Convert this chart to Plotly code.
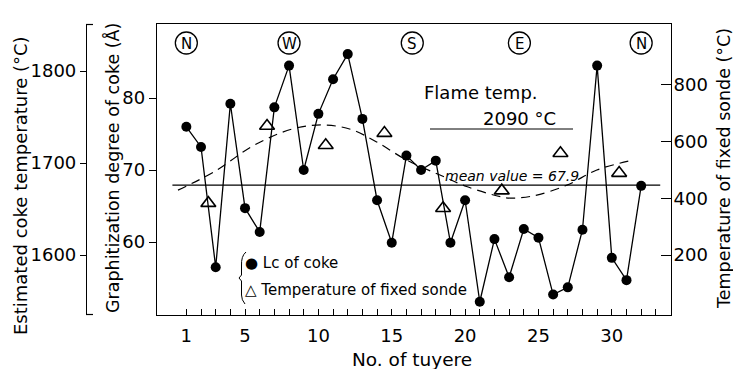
import plotly.graph_objects as go

# ---------------- data ----------------
tuyere = list(range(1, 33))
lc_coke = [76.0, 73.2, 56.5, 79.2, 64.7, 61.4, 78.7, 84.5, 70.0, 77.8,
           82.6, 86.1, 77.1, 65.8, 59.9, 72.0, 70.0, 71.3, 59.9, 65.8,
           51.7, 60.4, 55.1, 61.8, 60.6, 52.7, 53.7, 61.7, 84.5, 57.8,
           54.7, 67.8]

sonde_tuyere = [2.5, 6.5, 10.5, 14.5, 18.5, 22.5, 26.5, 30.5]
sonde_temp = [383, 655, 587, 630, 365, 427, 559, 489]

# dashed trend curve (graphitization units)
curve_x = [0.43, 2.93, 5.67, 8.4, 10.44, 12.27, 13.97, 16.0, 18.29, 20.1,
           22.4, 23.07, 24.64, 26.94, 28.98, 31.49]
curve_y = [67.2, 69.8, 73.5, 75.8, 76.25, 75.6, 73.9, 71.4, 69.3, 67.7,
           66.3, 66.1, 66.4, 67.9, 70.0, 71.4]

mean_value = 67.9
mean_x = [0.05, 33.3]

directions = ["N", "W", "S", "E", "N"]
direction_tuyere = [1, 8, 16.4, 23.7, 32]

x_tickvals = [1, 5, 10, 15, 20, 25, 30]
x_minor = list(range(1, 34))
y1_ticks = [60, 70, 80]
y2_ticks = [200, 400, 600, 800]
y3_ticks = [1600, 1700, 1800]

# ---------------- layout helpers ----------------
W, H = 733, 369
FONT = "DejaVu Sans"


def px(x):
    return x / W


def py(y):
    return 1 - y / H


fig = go.Figure()

fig.add_trace(go.Scatter(
    x=tuyere, y=lc_coke, mode="lines+markers",
    line=dict(color="black", width=1.3),
    marker=dict(symbol="circle", size=10, color="black"),
    showlegend=False))

fig.add_trace(go.Scatter(
    x=curve_x, y=curve_y, mode="lines",
    line=dict(color="black", width=1.2, dash="9px,6px", shape="spline"),
    showlegend=False))

fig.add_trace(go.Scatter(
    x=mean_x, y=[mean_value, mean_value], mode="lines",
    line=dict(color="black", width=1.3), showlegend=False))

fig.add_trace(go.Scatter(
    x=sonde_tuyere, y=sonde_temp, mode="markers", yaxis="y2",
    marker=dict(symbol="triangle-up-open", size=13, color="black",
                line=dict(width=1.6)),
    showlegend=False))

# invisible trace to activate third axis
fig.add_trace(go.Scatter(x=[None], y=[None], yaxis="y3", showlegend=False))

tick_font = dict(family=FONT, size=18, color="black")

fig.update_layout(
    width=W, height=H,
    margin=dict(l=0, r=0, t=0, b=0),
    paper_bgcolor="white", plot_bgcolor="white",
    font=dict(family=FONT, color="black"),
    xaxis=dict(
        domain=[157 / W, 670.5 / W], range=[-1.0, 34.0],
        showgrid=False, zeroline=False, showline=True, linecolor="black",
        linewidth=1.3, mirror=True,
        tickvals=x_tickvals, ticktext=[str(v) for v in x_tickvals],
        ticks="inside", ticklen=6, tickcolor="black", tickwidth=1,
        ticklabelstandoff=4,
        minor=dict(tickvals=x_minor, ticks="inside", ticklen=6,
                   tickcolor="black", tickwidth=1),
        tickfont=tick_font),
    yaxis=dict(
        domain=[py(315), py(24)], range=[49.86, 90.28],
        showgrid=False, zeroline=False, showline=True, linecolor="black",
        linewidth=1.3, mirror=True,
        tickvals=y1_ticks, ticks="outside", ticklen=7, tickcolor="black",
        tickfont=tick_font),
    yaxis2=dict(
        overlaying="y", side="right", anchor="x", range=[-11.6, 1015],
        showgrid=False, zeroline=False, showline=False,
        tickvals=y2_ticks, ticks="inside", ticklen=10, tickcolor="black",
        ticklabelstandoff=2,
        tickfont=tick_font),
    yaxis3=dict(
        overlaying="y", side="left", anchor="free", position=86 / W,
        range=[1534.8, 1851.1],
        showgrid=False, zeroline=False, showline=True, linecolor="black",
        linewidth=1.2,
        tickvals=y3_ticks, ticks="outside", ticklen=6, tickcolor="black",
        tickfont=tick_font),
)

shapes = []
# bracket ends on the coke temperature axis
for yy in (24.5, 314.5):
    shapes.append(dict(type="line", xref="paper", yref="paper",
                       x0=px(86), x1=px(93), y0=py(yy), y1=py(yy),
                       line=dict(color="black", width=1.2)))
# underline for flame temperature
shapes.append(dict(type="line", xref="paper", yref="paper",
                   x0=px(430), x1=px(573), y0=py(129), y1=py(129),
                   line=dict(color="black", width=1)))
# legend brace
brace = (f"M {px(246)},{py(252)} Q {px(241)},{py(256)} {px(241.5)},{py(266)} "
         f"L {px(241.5)},{py(275)} L {px(239)},{py(278)} L {px(241.5)},{py(281)} "
         f"L {px(241.5)},{py(295)} Q {px(241.5)},{py(300)} {px(245)},{py(304)}")
shapes.append(dict(type="path", xref="paper", yref="paper", path=brace,
                   line=dict(color="black", width=1)))
# circles around compass letters
for t in direction_tuyere:
    shapes.append(dict(type="circle", xref="x", yref="paper",
                       xsizemode="pixel", ysizemode="pixel",
                       xanchor=t, yanchor=py(43),
                       x0=-11, x1=11, y0=-11, y1=11,
                       line=dict(color="black", width=1.3)))
fig.update_layout(shapes=shapes)

ann = []
for t, d in zip(direction_tuyere, directions):
    ann.append(dict(x=t, y=py(43.5), xref="x", yref="paper", text=d,
                    showarrow=False, font=dict(family=FONT, size=15),
                    xanchor="center", yanchor="middle"))


def txt(text, x, y, size, angle=0, xanchor="center"):
    ann.append(dict(x=px(x), y=py(y), xref="paper", yref="paper", text=text,
                    showarrow=False, textangle=angle,
                    font=dict(family=FONT, size=size, color="black"),
                    xanchor=xanchor, yanchor="middle"))


txt("Estimated coke temperature (°C)", 20, 186, 18, -90)
txt("Graphitization degree of coke (Å)", 112, 168, 17.5, -90)
txt("Temperature of fixed sonde (°C)", 724, 169, 17.5, -90)
txt("No. of tuyere", 412, 359, 18.5)
txt("Flame temp.", 422, 93, 18, xanchor="left")
txt("2090 °C", 519, 119, 18)
txt("<i>mean value = 67.9</i>", 512, 176, 14)
txt("● Lc of coke", 243, 263, 15, xanchor="left")
txt("△ Temperature of fixed sonde", 243, 290, 15, xanchor="left")
fig.update_layout(annotations=ann)

fig.write_html("out.html")
